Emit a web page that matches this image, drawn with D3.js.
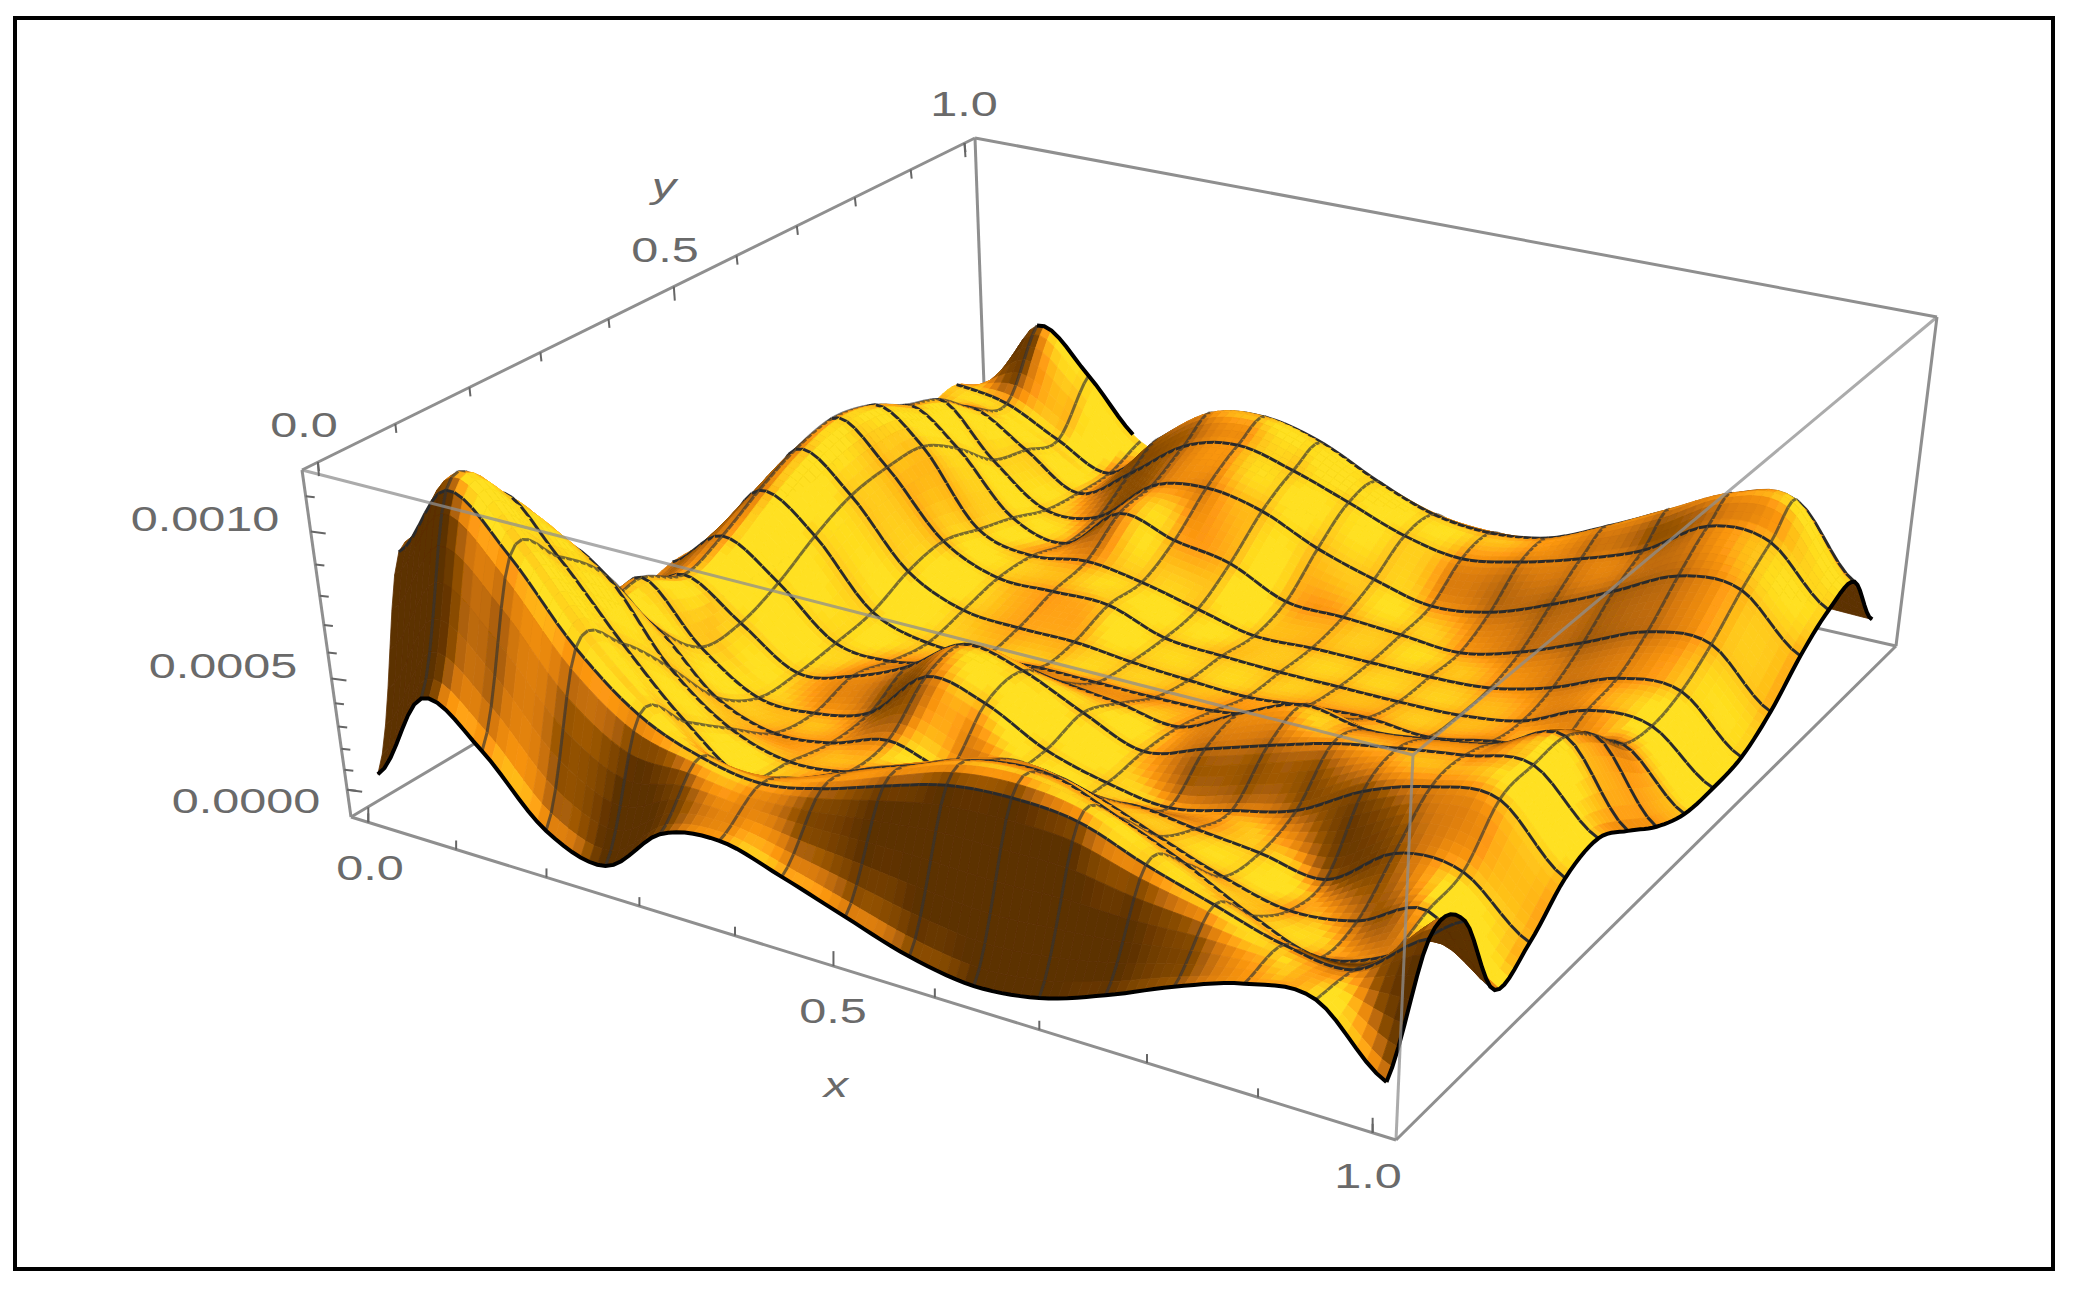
<!DOCTYPE html>
<meta charset="utf-8">
<head>
    <script src="https://d3js.org/d3.v7.min.js"></script>
    <style>
        body { margin: 0; background: #fff; }
        text { font-family: "Liberation Sans", sans-serif; fill: #6a6a6a; }
    </style>
</head>
<body>
<script>

    var width = 2073
    var height = 1292

    // surface height in units of 1e-5, one row per y = j/16, columns x = i/16
    var zRow0  = [ 6, 47, 32,  3, -6, 18, 23, 15,  5, -5,-10, -6,  5, 18, 28, 30,  4]
    var zRow1  = [85,108, 93, 68, 49, 39, 35, 40, 48, 55, 57, 55, 46, 38, 30, 28, 48]
    var zRow2  = [60,100, 85, 60, 35, 16, 25, 36, 45, 53, 54, 45, 34, 20, 10, 20, 42]
    var zRow3  = [30, 75, 70, 40, 20, 12, 15, 25, 35, 40, 35, 25, 15,  8, 12, 25, -2]
    var zRow4  = [20, 45, 40, 15,  5,  8, 17, 10, 17, 12, 18, 15, 12,  8, 28, 28,  5]
    var zRow5  = [20, 45, 20,  2,  2, 10, 34, 29, 15,  7,  3, 10, 18, 34, 43, 45, 20]
    var zRow6  = [20, 36, 20,  2,  8, 20, 37, 32, 20,  9, 18, 27, 35, 40, 44, 47, 24]
    var zRow7  = [25, 43, 28,  5,  3, 10, 18, 15, 12,  8, 22, 33, 29, 32, 37, 47, 14]
    var zRow8  = [25, 53, 39,  9,  0,  0,  2,  2,  2,  3,  8, 15, 10, 17, 21, 36,  2]
    var zRow9  = [25, 61, 47, 18,  5,  3,  3,  0, -2, -3,  0,  2,  0,  6, 10, 20, -6]
    var zRow10 = [25, 65, 50, 22, 10, 10, 10,  0, -2, -3, -3, -3, -2,  3, 16, 16, -7]
    var zRow11 = [25, 62, 50, 17, 10, 14, 10,  3, -4, -3, -3, -3, -1,  7, 19, 20, -5]
    var zRow12 = [25, 54, 40, 12,  5, 27, 20, 15,  2,  1, -1, -3,  5, 17, 29, 30,  5]
    var zRow13 = [25, 48, 25,  5,  8, 30, 35, 30, 18,  9,  2,  6, 17, 30, 43, 43, 20]
    var zRow14 = [28, 35, 20,  3, 20, 39, 45, 39, 30, 20, 15, 20, 28, 38, 54, 53, 30]
    var zRow15 = [32, 28, 15,  3, 28, 45, 48, 42, 30, 20, 17, 21, 33, 46, 57, 60, 32]
    var zRow16 = [20, 56, 38, 10,  5,  5,  5,  4,  4,  3,  3,  3,  3,  3,  3,  3,  2]
    var zRows = [zRow0, zRow1, zRow2, zRow3, zRow4, zRow5, zRow6, zRow7, zRow8,
        zRow9, zRow10, zRow11, zRow12, zRow13, zRow14, zRow15, zRow16]

    var axisMinorTicks = [0, 0.1, 0.2, 0.3, 0.4, 0.6, 0.7, 0.8, 0.9, 1]
    var axisMajorTicks = [0, 0.5, 1]
    var zMinorTicks = [0, 1e-4, 2e-4, 3e-4, 4e-4, 6e-4, 7e-4, 8e-4, 9e-4, 11e-4]
    var zMajorTicks = [0, 5e-4, 1e-3]

    var xLabels = ["0.0", "0.5", "1.0"]
    var zLabels = ["0.0000", "0.0005", "0.0010"]

    var subdiv = 7

    var svg = d3.select("body").append("svg")
        .attr("width", width)
        .attr("height", height)
        .style("display", "block")

    var soft = svg.append("defs").append("filter")
        .attr("id", "soft")
        .attr("filterUnits", "userSpaceOnUse")
        .attr("x", 0).attr("y", 0).attr("width", width).attr("height", height)
    soft.append("feGaussianBlur").attr("stdDeviation", 0.7)

    // maps the unit square onto a quad (p00, p10, p11, p01)
    function homography(q) {
        var x0 = q[0][0], y0 = q[0][1], x1 = q[1][0], y1 = q[1][1]
        var x2 = q[2][0], y2 = q[2][1], x3 = q[3][0], y3 = q[3][1]
        var dx1 = x1 - x2, dx2 = x3 - x2, dx3 = x0 - x1 + x2 - x3
        var dy1 = y1 - y2, dy2 = y3 - y2, dy3 = y0 - y1 + y2 - y3
        var det = dx1 * dy2 - dx2 * dy1
        var g = (dx3 * dy2 - dx2 * dy3) / det, h = (dx1 * dy3 - dx3 * dy1) / det
        var a = x1 - x0 + g * x1, b = x3 - x0 + h * x3
        var d = y1 - y0 + g * y1, e = y3 - y0 + h * y3
        return function (u, v) {
            var w = g * u + h * v + 1
            return [(a * u + b * v + x0) / w, (d * u + e * v + y0) / w]
        }
    }

    var bottomFace = homography([[351, 817], [1396, 1140], [1896, 646], [986, 440]])
    var topFace = homography([[302, 470], [1413, 755], [1937, 317], [975, 138]])

    var xyScale = d3.scaleLinear().domain([-0.02, 1.02]).range([0, 1])
    var zScale = d3.scaleLinear().domain([-14.5, 117]).range([0, 1])

    // z in 1e-5 units
    function project(x, y, z) {
        var u = xyScale(x), v = xyScale(y), t = zScale(z)
        var s = t / (t + 1.45 * (1 - t))
        var a = bottomFace(u, v), b = topFace(u, v)
        return [a[0] + (b[0] - a[0]) * s, a[1] + (b[1] - a[1]) * s]
    }

    function catmull(p0, p1, p2, p3, t) {
        return 0.5 * (2 * p1 + (p2 - p0) * t + (2 * p0 - 5 * p1 + 4 * p2 - p3) * t * t
            + (3 * p1 - p0 - 3 * p2 + p3) * t * t * t)
    }

    function at(row, k) {
        return row[Math.max(0, Math.min(row.length - 1, k))]
    }

    // smooth height between the table values, only for drawing
    function surfaceZ(fi, fj) {
        var i = Math.min(15, Math.floor(fi)), j = Math.min(15, Math.floor(fj))
        var ti = fi - i, tj = fj - j
        var col = [-1, 0, 1, 2].map(function (dj) {
            var row = zRows[Math.max(0, Math.min(16, j + dj))]
            return catmull(at(row, i - 1), at(row, i), at(row, i + 1), at(row, i + 2), ti)
        })
        return catmull(col[0], col[1], col[2], col[3], tj)
    }

    var n = 16 * subdiv
    var fine = d3.range(n + 1).map(function (a) {
        return d3.range(n + 1).map(function (b) {
            return surfaceZ(a / subdiv, b / subdiv)
        })
    })

    var shade = d3.scaleLinear()
        .domain([0, 0.25, 0.5, 0.72, 0.92, 1.05])
        .range(["#5c3000", "#8a4c04", "#d87a0c", "#ff9a12", "#ffc41a", "#ffe020"])
        .clamp(true)

    function cellColor(a, b) {
        // normal in box coordinates, box height is 0.4 of its width
        var k = 0.4 * (zScale(1) - zScale(0)) * n
        var dzx = (fine[a + 1][b] + fine[a + 1][b + 1] - fine[a][b] - fine[a][b + 1]) / 2 * k
        var dzy = (fine[a][b + 1] + fine[a + 1][b + 1] - fine[a][b] - fine[a + 1][b]) / 2 * k
        var len = Math.sqrt(dzx * dzx + dzy * dzy + 1)
        var nx = -dzx / len, ny = -dzy / len, nz = 1 / len
        var nearRight = a / n > 0.88
        var side = nx > 0 ? nx * (nearRight ? 0.75 : 0.4 + 1.5 * Math.abs(ny)) : 0.3 * nx
        var facing = ny > 0 ? (nearRight ? 1.1 : 0.5) * ny : -0.35 * ny
        // each mesh cell is a little darker towards its border
        var u = (a % subdiv + 0.5) / subdiv - 0.5, v = (b % subdiv + 0.5) / subdiv - 0.5
        return shade(nz + side - facing - 0.35 * (u * u + v * v))
    }

    function fp(a, b) {
        return project(a / n, b / n, fine[a][b])
    }

    var line = d3.line()

    // painter order: far corner first (x small, y large)
    var items = []
    for (var a = 0; a < n; a++) {
        for (var b = n - 1; b >= 0; b--) {
            var c = cellColor(a, b)
            items.push({d: line([fp(a, b), fp(a + 1, b), fp(a + 1, b + 1), fp(a, b + 1)]) + "Z",
                fill: c, stroke: c, w: 0.8, op: 1})
            if (a % subdiv == 0 && a > 0) {
                items.push({d: line([fp(a, b), fp(a, b + 1)]), fill: "none", stroke: "#333", w: 3, op: 0.65})
            }
            if ((b + 1) % subdiv == 0 && b + 1 < n) {
                items.push({d: line([fp(a, b + 1), fp(a + 1, b + 1)]), fill: "none", stroke: "#2c2c2c", w: 3, op: 1})
            }
        }
    }

    var boxColor = "#8f8f8f"

    function edge(g, p, q, w) {
        g.append("line")
            .attr("x1", p[0]).attr("y1", p[1])
            .attr("x2", q[0]).attr("y2", q[1])
            .attr("stroke", boxColor)
            .attr("stroke-width", w || 3)
    }

    var zLo = zScale.domain()[0], zHi = zScale.domain()[1]
    var lo = -0.02, hi = 1.02

    // frame
    svg.append("rect")
        .attr("x", 15).attr("y", 18)
        .attr("width", 2038).attr("height", 1251)
        .attr("fill", "none")
        .attr("stroke", "#000")
        .attr("stroke-width", 4)

    var back = svg.append("g")
    edge(back, project(lo, lo, zLo), project(lo, hi, zLo))
    edge(back, project(lo, hi, zLo), project(hi, hi, zLo))
    edge(back, project(lo, hi, zLo), project(lo, hi, zHi))
    edge(back, project(lo, hi, zHi), project(hi, hi, zHi))
    edge(back, project(lo, lo, zHi), project(lo, hi, zHi))
    edge(back, project(hi, hi, zLo), project(hi, hi, zHi))
    edge(back, project(lo, lo, zLo), project(lo, lo, zHi))
    edge(back, project(lo, lo, zLo), project(hi, lo, zLo))
    edge(back, project(hi, lo, zLo), project(hi, hi, zLo))

    var chart = svg.append("g").attr("filter", "url(#soft)")

    chart.append("g").selectAll("path")
        .data(items)
        .join("path")
        .attr("d", function (d) { return d.d })
        .attr("fill", function (d) { return d.fill })
        .attr("stroke", function (d) { return d.stroke })
        .attr("stroke-width", function (d) { return d.w })
        .attr("stroke-opacity", function (d) { return d.op })

    // black rim along the near borders and the back peak
    var rim = chart.append("g").attr("fill", "none").attr("stroke", "#000").attr("stroke-width", 4)
    rim.append("path").attr("d", line(d3.range(n + 1).map(function (a) { return fp(a, 0) })))
    rim.append("path").attr("d", line(d3.range(n + 1).map(function (b) { return fp(n, b) })))
    rim.append("path").attr("d", line(d3.range(subdiv * 1, subdiv * 3).map(function (a) { return fp(a, n) })))

    // box edges that pass in front of the surface
    var front = svg.append("g").attr("opacity", 0.75)
    edge(front, project(lo, lo, zHi), project(hi, lo, zHi))
    edge(front, project(hi, lo, zHi), project(hi, hi, zHi))
    edge(front, project(hi, lo, zLo), project(hi, lo, zHi))

    var ticks = svg.append("g")

    function tick(p, dx, dy) {
        ticks.append("line")
            .attr("x1", p[0]).attr("y1", p[1])
            .attr("x2", p[0] + dx).attr("y2", p[1] + dy)
            .attr("stroke", "#666").attr("stroke-width", 2)
    }

    axisMinorTicks.forEach(function (v) {
        tick(project(v, lo, zLo), 0, -9)
        tick(project(lo, v, zHi), 1, 9)
    })
    axisMajorTicks.forEach(function (v) {
        tick(project(v, lo, zLo), 0, -15)
        tick(project(lo, v, zHi), 1, 14)
    })
    zMinorTicks.forEach(function (v) { tick(project(lo, lo, v * 1e5), 9, 1) })
    zMajorTicks.forEach(function (v) { tick(project(lo, lo, v * 1e5), 15, 2) })

    function label(txt, cx, cy, italic) {
        svg.append("text")
            .attr("transform", "translate(" + cx + "," + cy + ") scale(1.35,1)")
            .attr("text-anchor", "middle")
            .attr("dy", "0.36em")
            .attr("font-size", 36)
            .attr("font-style", italic ? "italic" : null)
            .text(txt)
    }

    label(xLabels[0], 370, 867)
    label(xLabels[1], 833, 1010)
    label(xLabels[2], 1368, 1175)
    label("x", 836, 1084, true)
    label(xLabels[0], 304, 424)
    label(xLabels[1], 665, 249)
    label(xLabels[2], 964, 103)
    label("y", 664, 185, true)
    label(zLabels[0], 246, 800)
    label(zLabels[1], 223, 665)
    label(zLabels[2], 205, 518)

</script>
</body>
</html>
